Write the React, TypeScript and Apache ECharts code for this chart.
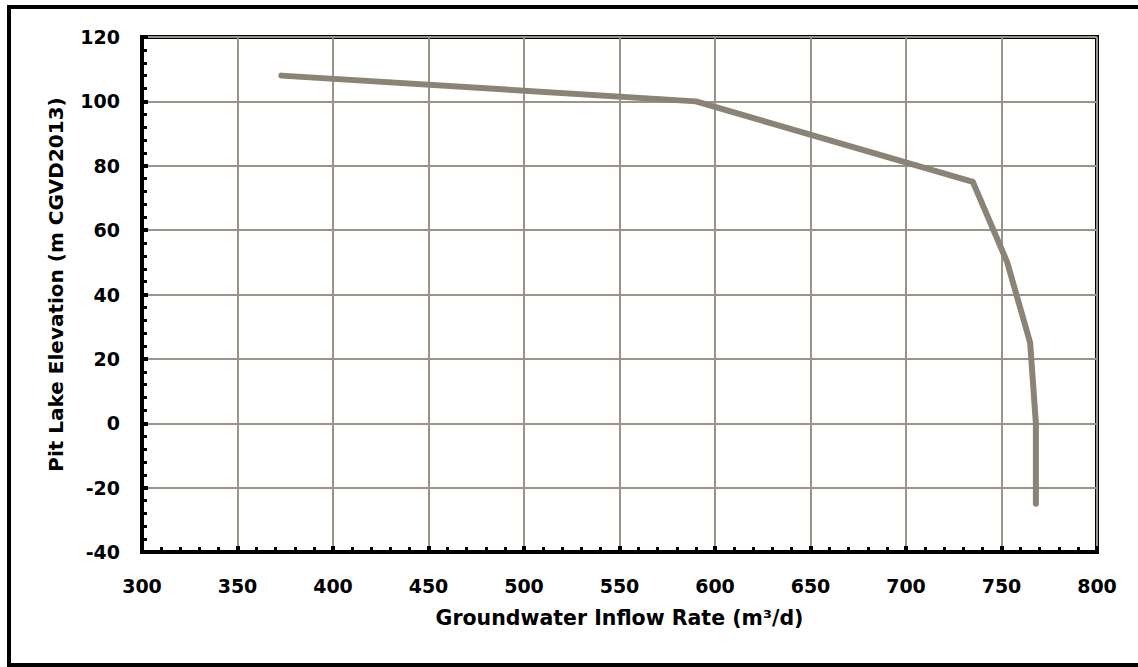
import React, { useEffect, useRef } from "react";
import * as echarts from "echarts";

const inflowRate = [373, 590, 735, 753, 765, 768, 768];
const elevation = [108, 100, 75, 50, 25, 0, -25];
const xTicks = { min: 300, max: 800, interval: 50 };
const yTicks = { min: -40, max: 120, interval: 20 };
const xTitle = "Groundwater Inflow Rate (m³/d)";
const yTitle = "Pit Lake Elevation (m CGVD2013)";

const FONT = "'DejaVu Sans', sans-serif";
const LINE = "#8a8376";
const GRID = "#9a9488";

export default function App() {
  const ref = useRef<HTMLDivElement>(null);
  useEffect(() => {
    if (!ref.current) return;
    const chart = echarts.init(ref.current, undefined, { renderer: "svg" });
    const data = inflowRate.map((x, i) => [x, elevation[i]]);
    const axisCommon = {
      axisLine: { show: true, onZero: false, lineStyle: { color: "#000", width: 4 } },
      axisTick: { show: true, inside: true, length: 6, lineStyle: { color: "#000", width: 4 } },
      minorTick: { show: true, splitNumber: 5, length: 5, lineStyle: { color: "#000", width: 3 } },
      splitLine: { show: true, lineStyle: { color: GRID, width: 2 } },
      axisLabel: { color: "#000", fontFamily: FONT, fontSize: 19, fontWeight: "bold" },
      nameTextStyle: { color: "#000", fontFamily: FONT, fontSize: 20.5, fontWeight: "bold" },
    };
    chart.setOption({
      animation: false,
      backgroundColor: "transparent",
      grid: {
        left: 142,
        right: 41,
        top: 37,
        bottom: 115,
        show: true,
        borderColor: "#000",
        borderWidth: 4,
        backgroundColor: "transparent",
      },
      xAxis: {
        type: "value",
        ...xTicks,
        ...axisCommon,
        axisLabel: { ...axisCommon.axisLabel, margin: 24 },
        name: xTitle,
        nameLocation: "middle",
        nameGap: 55,
        nameTextStyle: { ...axisCommon.nameTextStyle, verticalAlign: "top" },
      },
      yAxis: {
        type: "value",
        ...yTicks,
        ...axisCommon,
        axisLabel: { ...axisCommon.axisLabel, margin: 22 },
        name: yTitle,
        nameLocation: "middle",
        nameGap: 76,
        nameRotate: 90,
        nameTextStyle: { ...axisCommon.nameTextStyle, fontSize: 20, padding: [0, 0, 0, 20] },
      },
      series: [
        {
          type: "line",
          data,
          showSymbol: false,
          symbol: "none",
          lineStyle: { color: LINE, width: 6, cap: "round", join: "round" },
          clip: false,
        },
      ],
    });
    return () => chart.dispose();
  }, []);
  return (
    <div
      style={{
        position: "absolute",
        left: 0,
        top: 0,
        width: 1138,
        height: 667,
        overflow: "hidden",
        background: "#fff",
      }}
    >
      <div
        style={{
          position: "absolute",
          left: 7,
          top: 5,
          width: 1150,
          height: 662,
          border: "4px solid #000",
          boxSizing: "border-box",
        }}
      />
      <div ref={ref} style={{ position: "absolute", left: 0, top: 0, width: 1138, height: 667 }} />
    </div>
  );
}
